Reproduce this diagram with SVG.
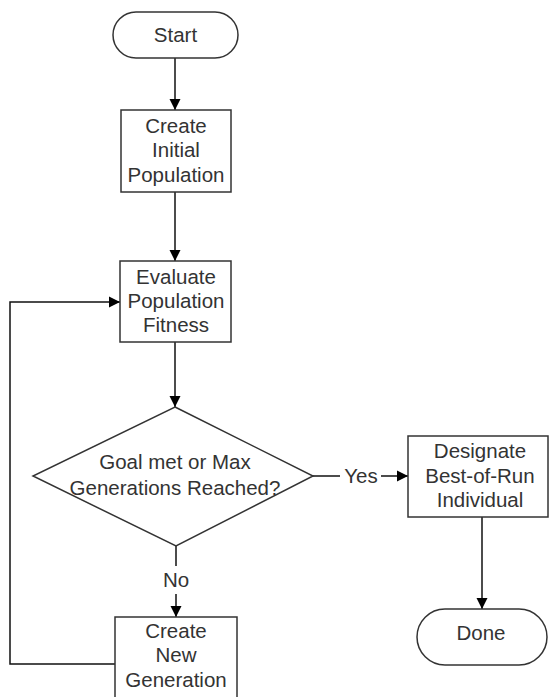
<svg xmlns="http://www.w3.org/2000/svg" width="550" height="697" viewBox="0 0 550 697">
<defs>
<marker id="arr" markerWidth="12" markerHeight="12" refX="11" refY="6" orient="auto" markerUnits="userSpaceOnUse">
<path d="M0,0.5 L11,6 L0,11.5 Z" fill="#000"/>
</marker>
<style>
.shape{fill:#fff;stroke:#333;stroke-width:1.5}
.t{font-family:"Liberation Sans",Arial,sans-serif;font-size:20.5px;fill:#333;text-anchor:middle}
.c{fill:none;stroke:#111;stroke-width:1.5}
</style>
</defs>
<rect width="550" height="697" fill="#fff"/>
<g id="connectors">
<line class="c" x1="175" y1="58" x2="175" y2="110" marker-end="url(#arr)"/>
<line class="c" x1="175" y1="192" x2="175" y2="261" marker-end="url(#arr)"/>
<line class="c" x1="175" y1="342" x2="175" y2="407" marker-end="url(#arr)"/>
<line class="c" x1="313" y1="476" x2="340" y2="476"/>
<line class="c" x1="381" y1="476" x2="408" y2="476" marker-end="url(#arr)"/>
<text class="t" x="361" y="483">Yes</text>
<line class="c" x1="176" y1="546" x2="176" y2="566"/>
<text class="t" x="176" y="587">No</text>
<line class="c" x1="176" y1="594" x2="176" y2="617" marker-end="url(#arr)"/>
<polyline class="c" points="115,664 10,664 10,302 120,302" marker-end="url(#arr)"/>
<line class="c" x1="482" y1="517" x2="482" y2="609" marker-end="url(#arr)"/>
</g>
<g id="start">
<rect class="shape" x="113" y="12" width="125" height="46" rx="23"/>
<text class="t" x="175.5" y="42">Start</text>
</g>
<g id="create-initial">
<rect class="shape" x="121" y="110" width="110" height="82"/>
<text class="t" x="176" y="133">Create</text>
<text class="t" x="176" y="157">Initial</text>
<text class="t" x="176" y="182">Population</text>
</g>
<g id="evaluate">
<rect class="shape" x="120" y="261" width="111" height="81"/>
<text class="t" x="176" y="284">Evaluate</text>
<text class="t" x="176" y="308">Population</text>
<text class="t" x="176" y="332">Fitness</text>
</g>
<g id="decision">
<polygon class="shape" points="175,407 313,476 176,546 33,476"/>
<text class="t" x="175" y="469">Goal met or Max</text>
<text class="t" x="175" y="495">Generations Reached?</text>
</g>
<g id="designate">
<rect class="shape" x="408" y="436" width="140" height="81"/>
<text class="t" x="480" y="458">Designate</text>
<text class="t" x="480" y="483">Best-of-Run</text>
<text class="t" x="480" y="507">Individual</text>
</g>
<g id="new-generation">
<rect class="shape" x="115" y="617" width="122" height="84"/>
<text class="t" x="176" y="638">Create</text>
<text class="t" x="176" y="662">New</text>
<text class="t" x="176" y="687">Generation</text>
</g>
<g id="done">
<rect class="shape" x="417" y="609" width="130" height="56" rx="28"/>
<text class="t" x="481" y="640">Done</text>
</g>
</svg>
